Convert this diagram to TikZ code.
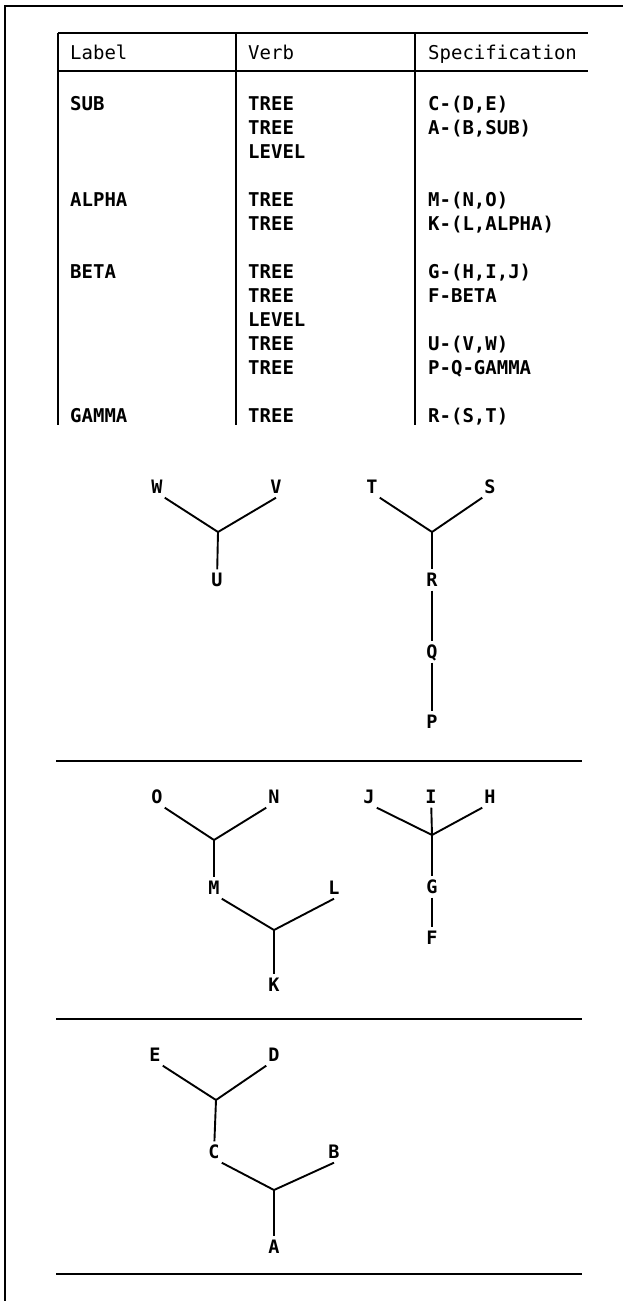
\documentclass[tikz,border=0pt]{standalone}
\usepackage{fontspec}
\setmonofont{DejaVu Sans Mono}
\begin{document}
\begin{tikzpicture}[x=1pt,y=-1pt,
  rule/.style={line width=1.6pt},
  cell/.style={anchor=base west,inner sep=0pt,font=\ttfamily\bfseries\fontsize{19}{19}\selectfont},
  head/.style={anchor=base west,inner sep=0pt,font=\ttfamily\fontsize{19}{19}\selectfont},
  leaf/.style={inner xsep=2pt,inner ysep=4pt,text height=13pt,text depth=0pt,
               font=\ttfamily\bfseries\fontsize{18.5}{18.5}\selectfont},
  branch/.style={line width=1.9pt}]
\path[use as bounding box] (0,0) rectangle (623,1301);

% page frame (left and top edges only)
\draw[rule] (5,1301) -- (5,6) -- (623,6);

% table of statements
\draw[rule] (58,33) -- (588,33);
\draw[rule] (58,71) -- (588,71);
\draw[rule] (58,33) -- (58,425);
\draw[rule] (236,33) -- (236,425);
\draw[rule] (415,33) -- (415,425);

\node[head] (hLabel) at (70,59) {Label};
\node[head] (hVerb)  at (248,59) {Verb};
\node[head] (hSpec)  at (428,59) {Specification};

\node[cell] (lSub)   at (70,110.5) {SUB};
\node[cell] (v1)     at (248,110.5) {TREE};
\node[cell] (s1)     at (428,110.5) {C-(D,E)};
\node[cell] (v2)     at (248,134.5) {TREE};
\node[cell] (s2)     at (428,134.5) {A-(B,SUB)};
\node[cell] (v3)     at (248,158.5) {LEVEL};

\node[cell] (lAlpha) at (70,206.5) {ALPHA};
\node[cell] (v4)     at (248,206.5) {TREE};
\node[cell] (s4)     at (428,206.5) {M-(N,O)};
\node[cell] (v5)     at (248,230.5) {TREE};
\node[cell] (s5)     at (428,230.5) {K-(L,ALPHA)};

\node[cell] (lBeta)  at (70,278.5) {BETA};
\node[cell] (v6)     at (248,278.5) {TREE};
\node[cell] (s6)     at (428,278.5) {G-(H,I,J)};
\node[cell] (v7)     at (248,302.5) {TREE};
\node[cell] (s7)     at (428,302.5) {F-BETA};
\node[cell] (v8)     at (248,326.5) {LEVEL};
\node[cell] (v9)     at (248,350.5) {TREE};
\node[cell] (s9)     at (428,350.5) {U-(V,W)};
\node[cell] (v10)    at (248,374.5) {TREE};
\node[cell] (s10)    at (428,374.5) {P-Q-GAMMA};

\node[cell] (lGamma) at (70,422.5) {GAMMA};
\node[cell] (v11)    at (248,422.5) {TREE};
\node[cell] (s11)    at (428,422.5) {R-(S,T)};

% level separators
\draw[rule] (56,761) -- (582,761);
\draw[rule] (56,1019) -- (582,1019);
\draw[rule] (56,1274) -- (582,1274);

% upper level: U-(V,W) and P-Q-R-(S,T)
\node[leaf] (W) at (157,487) {W};
\node[leaf] (V) at (276,487) {V};
\node[leaf] (U) at (217,580) {U};
\coordinate (jU) at (218,532);
\draw[branch] (W.south east) -- (jU) -- (V.south);
\draw[branch] (jU) -- (U);

\node[leaf] (T) at (372,487) {T};
\node[leaf] (S) at (490,487) {S};
\node[leaf] (R) at (432,580) {R};
\node[leaf] (Q) at (432,652) {Q};
\node[leaf] (P) at (432,722) {P};
\coordinate (jR) at (432,532);
\draw[branch] (T.south east) -- (jR) -- (S.south west);
\draw[branch] (jR) -- (R);
\draw[branch] (R) -- (Q);
\draw[branch] (Q) -- (P);

% middle level: K-(L,M-(N,O)) and F-G-(H,I,J)
\node[leaf] (O) at (157,797) {O};
\node[leaf] (N) at (274,797) {N};
\node[leaf] (M) at (214,888) {M};
\coordinate (jM) at (214,840);
\draw[branch] (O.south east) -- (jM) -- (N.south west);
\draw[branch] (jM) -- (M);

\node[leaf] (L) at (334,888) {L};
\node[leaf] (K) at (274,985) {K};
\coordinate (jK) at (274,930);
\draw[branch] (M.south east) -- (jK) -- (L.south);
\draw[branch] (jK) -- (K);

\node[leaf] (J) at (369,797) {J};
\node[leaf] (I) at (431,797) {I};
\node[leaf] (H) at (490,797) {H};
\node[leaf] (G) at (432,887) {G};
\node[leaf] (F) at (432,938) {F};
\coordinate (jG) at (432,835);
\draw[branch] (J.south east) -- (jG) -- (H.south west);
\draw[branch] (I) -- (jG);
\draw[branch] (jG) -- (G);
\draw[branch] (G) -- (F);

% lower level: A-(B,C-(D,E))
\node[leaf] (E) at (155,1055) {E};
\node[leaf] (D) at (274,1055) {D};
\node[leaf] (C) at (214,1152) {C};
\coordinate (jC) at (216,1100);
\draw[branch] (E.south east) -- (jC) -- (D.south west);
\draw[branch] (jC) -- (C);

\node[leaf] (B) at (334,1152) {B};
\node[leaf] (A) at (274,1247) {A};
\coordinate (jA) at (274,1190);
\draw[branch] (C.south east) -- (jA) -- (B.south);
\draw[branch] (jA) -- (A);
\end{tikzpicture}
\end{document}
